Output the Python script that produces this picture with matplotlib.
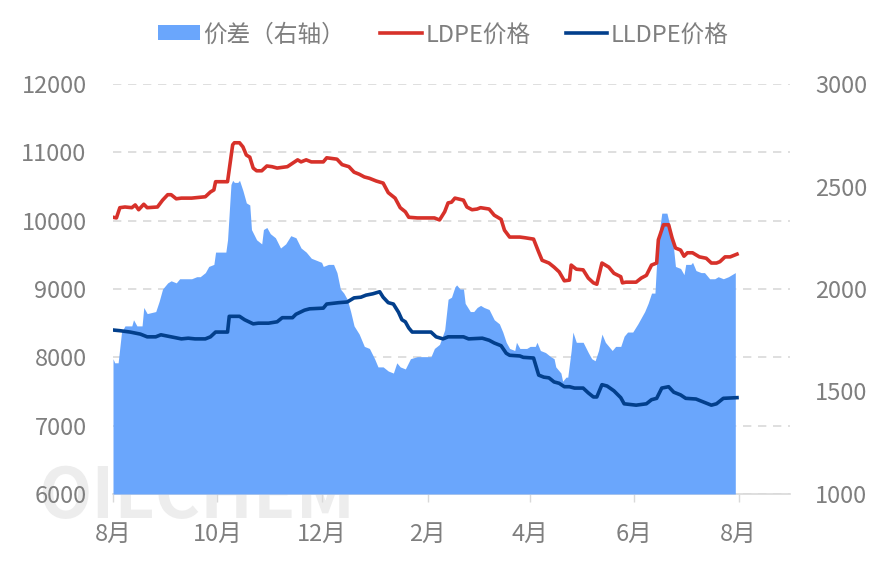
import numpy as np
import pandas as pd
import matplotlib
matplotlib.use("Agg")
import matplotlib.pyplot as plt
import matplotlib.dates as mdates
from matplotlib.patches import Patch
from matplotlib.lines import Line2D

plt.rcParams['font.family'] = ['Noto Sans CJK SC', 'DejaVu Sans']

# LDPE price (left axis)
ldpe_dates = ["2023-08-01", "2023-08-03", "2023-08-05", "2023-08-08", "2023-08-12", "2023-08-14",
              "2023-08-16", "2023-08-19", "2023-08-21", "2023-08-27", "2023-08-30", "2023-09-02",
              "2023-09-04", "2023-09-07", "2023-09-10", "2023-09-16", "2023-09-24", "2023-09-27",
              "2023-09-29", "2023-09-30", "2023-10-07", "2023-10-10", "2023-10-11", "2023-10-14",
              "2023-10-16", "2023-10-18", "2023-10-20", "2023-10-22", "2023-10-24", "2023-10-27",
              "2023-10-30", "2023-11-02", "2023-11-05", "2023-11-11", "2023-11-14", "2023-11-17",
              "2023-11-19", "2023-11-22", "2023-11-25", "2023-12-02", "2023-12-04", "2023-12-10",
              "2023-12-13", "2023-12-17", "2023-12-20", "2023-12-23", "2023-12-26", "2023-12-29",
              "2024-01-02", "2024-01-06", "2024-01-09", "2024-01-13", "2024-01-16", "2024-01-19",
              "2024-01-21", "2024-01-26", "2024-02-05", "2024-02-08", "2024-02-11", "2024-02-13",
              "2024-02-15", "2024-02-17", "2024-02-22", "2024-02-24", "2024-02-27", "2024-03-01",
              "2024-03-03", "2024-03-08", "2024-03-11", "2024-03-15", "2024-03-17", "2024-03-20",
              "2024-03-26", "2024-03-29", "2024-04-03", "2024-04-06", "2024-04-08", "2024-04-12",
              "2024-04-15", "2024-04-18", "2024-04-21", "2024-04-24", "2024-04-25", "2024-04-28",
              "2024-05-02", "2024-05-05", "2024-05-08", "2024-05-10", "2024-05-13", "2024-05-17",
              "2024-05-20", "2024-05-24", "2024-05-25", "2024-05-27", "2024-06-02", "2024-06-05",
              "2024-06-08", "2024-06-11", "2024-06-14", "2024-06-15", "2024-06-18", "2024-06-21",
              "2024-06-23", "2024-06-25", "2024-06-28", "2024-06-30", "2024-07-02", "2024-07-05",
              "2024-07-09", "2024-07-13", "2024-07-16", "2024-07-19", "2024-07-21", "2024-07-24",
              "2024-07-27", "2024-07-31"]
ldpe_vals = [10050, 10040, 10190, 10200, 10190, 10230, 10160, 10240, 10190, 10200, 10300, 10380,
             10380, 10320, 10330, 10330, 10350, 10420, 10450, 10570, 10570, 11110, 11140, 11140,
             11080, 10960, 10930, 10770, 10730, 10730, 10800, 10790, 10770, 10790, 10840, 10890,
             10860, 10890, 10860, 10860, 10920, 10900, 10820, 10790, 10710, 10680, 10640, 10620,
             10580, 10550, 10410, 10330, 10190, 10130, 10050, 10040, 10040, 10010, 10130, 10260,
             10270, 10330, 10300, 10200, 10160, 10170, 10190, 10170, 10080, 10020, 9860, 9760,
             9760, 9750, 9730, 9540, 9420, 9380, 9320, 9250, 9120, 9130, 9350, 9290,
             9280, 9160, 9090, 9070, 9380, 9320, 9230, 9180, 9090, 9100, 9100, 9160,
             9200, 9350, 9380, 9720, 9940, 9940, 9750, 9600, 9570, 9480, 9530, 9530,
             9470, 9450, 9380, 9380, 9400, 9470, 9470, 9510]

# LLDPE price (left axis)
lldpe_dates = ["2023-08-01", "2023-08-05", "2023-08-11", "2023-08-17", "2023-08-21", "2023-08-26",
               "2023-08-29", "2023-09-04", "2023-09-10", "2023-09-14", "2023-09-18", "2023-09-24",
               "2023-09-27", "2023-09-30", "2023-10-07", "2023-10-08", "2023-10-14", "2023-10-17",
               "2023-10-22", "2023-10-25", "2023-10-31", "2023-11-05", "2023-11-08", "2023-11-14",
               "2023-11-16", "2023-11-21", "2023-11-24", "2023-12-02", "2023-12-04", "2023-12-11",
               "2023-12-16", "2023-12-20", "2023-12-24", "2023-12-27", "2023-12-31", "2024-01-04",
               "2024-01-06", "2024-01-09", "2024-01-12", "2024-01-15", "2024-01-17", "2024-01-19",
               "2024-01-21", "2024-01-23", "2024-02-03", "2024-02-06", "2024-02-10", "2024-02-13",
               "2024-02-22", "2024-02-25", "2024-03-04", "2024-03-08", "2024-03-11", "2024-03-15",
               "2024-03-18", "2024-03-20", "2024-03-26", "2024-03-28", "2024-04-03", "2024-04-06",
               "2024-04-09", "2024-04-12", "2024-04-15", "2024-04-18", "2024-04-21", "2024-04-24",
               "2024-04-27", "2024-05-02", "2024-05-05", "2024-05-08", "2024-05-10", "2024-05-13",
               "2024-05-16", "2024-05-20", "2024-05-24", "2024-05-26", "2024-06-02", "2024-06-08",
               "2024-06-11", "2024-06-14", "2024-06-17", "2024-06-21", "2024-06-24", "2024-06-28",
               "2024-07-01", "2024-07-07", "2024-07-11", "2024-07-16", "2024-07-19", "2024-07-23",
               "2024-07-31"]
lldpe_vals = [8400, 8390, 8370, 8340, 8300, 8300, 8330, 8300, 8270, 8280, 8270, 8270,
              8300, 8370, 8370, 8600, 8600, 8550, 8490, 8500, 8500, 8520, 8580, 8580,
              8630, 8690, 8710, 8720, 8780, 8800, 8810, 8870, 8880, 8910, 8930, 8960,
              8880, 8800, 8780, 8660, 8550, 8520, 8430, 8370, 8370, 8300, 8270, 8300,
              8300, 8270, 8280, 8250, 8210, 8170, 8060, 8030, 8020, 8000, 7990, 7740,
              7710, 7700, 7640, 7620, 7570, 7570, 7550, 7550, 7480, 7420, 7420, 7600,
              7580, 7510, 7410, 7320, 7300, 7320, 7380, 7400, 7550, 7570, 7490, 7450,
              7400, 7390, 7350, 7300, 7320, 7400, 7410]

# spread (right axis)
spread_dates = ["2023-08-01", "2023-08-02", "2023-08-04", "2023-08-06", "2023-08-08", "2023-08-12",
                "2023-08-13", "2023-08-15", "2023-08-18", "2023-08-19", "2023-08-21", "2023-08-26",
                "2023-08-28", "2023-08-30", "2023-09-02", "2023-09-04", "2023-09-07", "2023-09-09",
                "2023-09-16", "2023-09-19", "2023-09-21", "2023-09-24", "2023-09-26", "2023-09-29",
                "2023-09-30", "2023-10-06", "2023-10-07", "2023-10-09", "2023-10-10", "2023-10-11",
                "2023-10-13", "2023-10-14", "2023-10-16", "2023-10-18", "2023-10-20", "2023-10-21",
                "2023-10-24", "2023-10-27", "2023-10-28", "2023-10-30", "2023-11-01", "2023-11-04",
                "2023-11-07", "2023-11-10", "2023-11-13", "2023-11-16", "2023-11-19", "2023-11-22",
                "2023-11-25", "2023-11-28", "2023-12-01", "2023-12-02", "2023-12-05", "2023-12-08",
                "2023-12-10", "2023-12-12", "2023-12-14", "2023-12-16", "2023-12-18", "2023-12-20",
                "2023-12-23", "2023-12-26", "2023-12-29", "2024-01-01", "2024-01-03", "2024-01-06",
                "2024-01-09", "2024-01-12", "2024-01-14", "2024-01-16", "2024-01-19", "2024-01-22",
                "2024-01-26", "2024-02-03", "2024-02-05", "2024-02-08", "2024-02-11", "2024-02-13",
                "2024-02-15", "2024-02-17", "2024-02-18", "2024-02-20", "2024-02-22", "2024-02-23",
                "2024-02-26", "2024-02-28", "2024-03-01", "2024-03-03", "2024-03-05", "2024-03-08",
                "2024-03-11", "2024-03-14", "2024-03-16", "2024-03-18", "2024-03-20", "2024-03-23",
                "2024-03-24", "2024-03-26", "2024-03-30", "2024-04-01", "2024-04-04", "2024-04-05",
                "2024-04-07", "2024-04-10", "2024-04-13", "2024-04-15", "2024-04-16", "2024-04-19",
                "2024-04-20", "2024-04-22", "2024-04-23", "2024-04-25", "2024-04-26", "2024-04-28",
                "2024-05-02", "2024-05-05", "2024-05-07", "2024-05-09", "2024-05-11", "2024-05-13",
                "2024-05-15", "2024-05-19", "2024-05-21", "2024-05-24", "2024-05-26", "2024-05-28",
                "2024-05-31", "2024-06-03", "2024-06-05", "2024-06-07", "2024-06-09", "2024-06-11",
                "2024-06-13", "2024-06-14", "2024-06-15", "2024-06-17", "2024-06-20", "2024-06-22",
                "2024-06-24", "2024-06-25", "2024-06-28", "2024-06-30", "2024-07-01", "2024-07-04",
                "2024-07-05", "2024-07-07", "2024-07-10", "2024-07-12", "2024-07-15", "2024-07-18",
                "2024-07-20", "2024-07-23", "2024-07-26", "2024-07-30"]
spread_vals = [1660, 1640, 1640, 1790, 1820, 1820, 1850, 1820, 1820, 1910, 1880, 1890,
               1940, 2000, 2030, 2040, 2030, 2050, 2050, 2060, 2060, 2080, 2110, 2120,
               2180, 2180, 2240, 2510, 2530, 2520, 2520, 2530, 2480, 2420, 2410, 2290,
               2240, 2220, 2290, 2300, 2270, 2250, 2200, 2220, 2260, 2250, 2200, 2180,
               2150, 2140, 2130, 2110, 2120, 2120, 2080, 2000, 1980, 1950, 1890, 1820,
               1780, 1720, 1710, 1660, 1620, 1620, 1600, 1590, 1640, 1620, 1610, 1660,
               1670, 1670, 1710, 1730, 1800, 1950, 1960, 2010, 2020, 2000, 2000, 1930,
               1890, 1890, 1910, 1920, 1910, 1900, 1850, 1830, 1790, 1740, 1710, 1700,
               1740, 1710, 1710, 1720, 1720, 1740, 1700, 1690, 1670, 1660, 1620, 1590,
               1550, 1570, 1570, 1700, 1790, 1740, 1740, 1690, 1660, 1650, 1700, 1780,
               1740, 1700, 1720, 1720, 1770, 1790, 1790, 1830, 1860, 1890, 1930, 1980,
               1980, 2130, 2250, 2370, 2370, 2300, 2190, 2110, 2100, 2070, 2120, 2120,
               2130, 2090, 2080, 2080, 2050, 2050, 2060, 2050, 2060, 2080]

tick_dates = ["2023-08-01", "2023-10-01", "2023-12-01", "2024-02-01", "2024-04-01", "2024-06-01", "2024-08-01"]
tick_labels = ["8月", "10月", "12月", "2月", "4月", "6月", "8月"]
left_ticks = [6000, 7000, 8000, 9000, 10000, 11000, 12000]
right_ticks = [1000, 1500, 2000, 2500, 3000]

GRAY = '#7F7F7F'
AREA = '#6AA6FC'
RED = '#D7312A'
NAVY = '#023F8C'

fig = plt.figure(figsize=(8.87, 5.70), dpi=100)
pos = [113 / 887, 76 / 570, 677 / 887, 410 / 570]

# watermark, drawn behind the axes
fig.text(38 / 887, 52 / 570, "OILCHEM", fontsize=50, fontweight='bold', color='#EDEDED',
         family=['Noto Sans CJK SC', 'DejaVu Sans'], zorder=-5)

ax1 = fig.add_axes(pos)
ax1.patch.set_visible(False)
ax1.set_ylim(6000, 12000)
ax1.set_yticks(left_ticks)
ax1.grid(axis='y', color='#D9D9D9', linestyle=(0, (5, 4)), linewidth=1.2)
ax1.grid(axis='x', visible=False)

ax2 = ax1.twinx()
ax2.set_ylim(1000, 3000)
ax2.set_yticks(right_ticks)
ax2.fill_between(pd.to_datetime(spread_dates), 1000, spread_vals, color=AREA, linewidth=0)

ax3 = ax1.twinx()
ax3.set_ylim(6000, 12000)
ax3.axis('off')
ax3.plot(pd.to_datetime(ldpe_dates), ldpe_vals, color=RED, linewidth=2.6, solid_joinstyle='round')
ax3.plot(pd.to_datetime(lldpe_dates), lldpe_vals, color=NAVY, linewidth=2.6, solid_joinstyle='round')

ax1.set_xlim(pd.Timestamp("2023-08-01"), pd.Timestamp("2024-08-31"))
ax1.set_xticks(pd.to_datetime(tick_dates))
ax1.set_xticklabels(tick_labels)

for ax in (ax1, ax2, ax3):
    for s in ax.spines.values():
        s.set_visible(False)
ax1.spines['bottom'].set_visible(True)
ax1.spines['bottom'].set_color('#D9D9D9')
ax1.spines['bottom'].set_linewidth(1.2)

ax1.tick_params(axis='x', colors='#D9D9D9', labelcolor=GRAY, labelsize=17, length=6, width=1, pad=15)
ax1.tick_params(axis='y', labelcolor=GRAY, labelsize=17, length=0, pad=19)
ax2.tick_params(axis='y', labelcolor=GRAY, labelsize=17, length=0, pad=18)

handles = [Patch(facecolor=AREA, edgecolor='none'),
           Line2D([], [], color=RED, linewidth=2.6),
           Line2D([], [], color=NAVY, linewidth=2.6)]
fig.legend(handles, ["价差（右轴）", "LDPE价格", "LLDPE价格"], loc='center',
           bbox_to_anchor=(0.5, 0.939), ncol=3, frameon=False, fontsize=17,
           labelcolor=GRAY, handlelength=1.75, handleheight=0.6, handletextpad=0.15,
           columnspacing=1.5)

fig.savefig("out.png", dpi=100)
